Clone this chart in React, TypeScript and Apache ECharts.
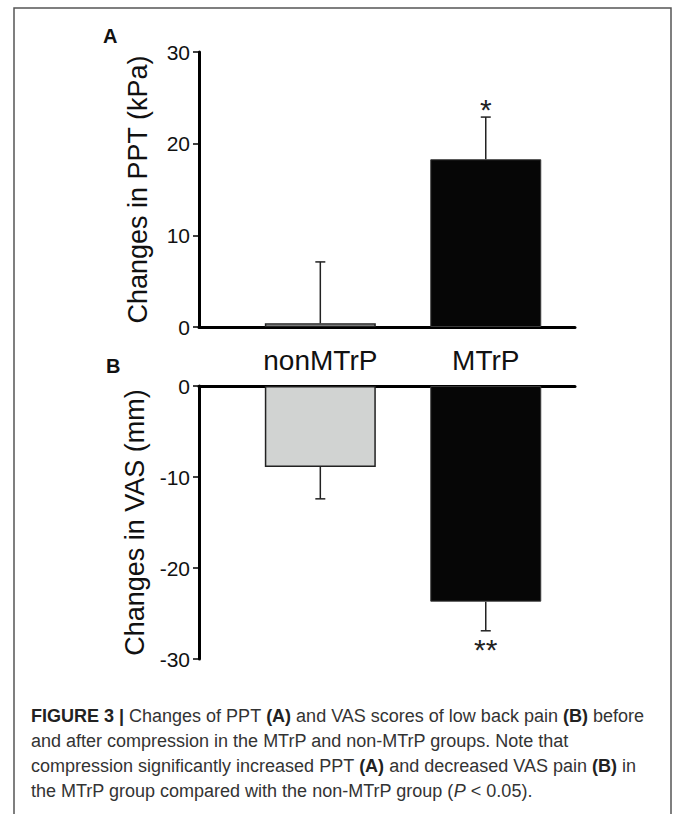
import React, { useEffect, useRef } from "react";
import * as echarts from "echarts";

const categories = ["nonMTrP", "MTrP"];
const pptChange = [0.4, 18.3];
const pptError = [6.7, 4.6];
const pptSignificance = ["", "*"];
const vasChange = [-8.9, -23.7];
const vasError = [3.5, 3.2];
const vasSignificance = ["", "**"];
const pptTitle = "Changes in PPT (kPa)";
const vasTitle = "Changes in VAS (mm)";
const captionLines = [
  "{b|FIGURE 3 |} Changes of PPT {b|(A)} and VAS scores of low back pain {b|(B)} before",
  "and after compression in the MTrP and non-MTrP groups. Note that",
  "compression significantly increased PPT {b|(A)} and decreased VAS pain {b|(B)} in",
  "the MTrP group compared with the non-MTrP group ({i|P} < 0.05).",
];

const FONT = "'Liberation Sans', Arial, Helvetica, sans-serif";
const barFill = ["#d1d3d2", "#060606"];
const barBorder = ["#222222", "#3a3a3a"];
const CAP = 18;

function barData(values: number[]) {
  return values.map((v, i) => ({
    value: [i, v],
    itemStyle: { color: barFill[i], borderColor: barBorder[i], borderWidth: i === 0 ? 1.5 : 1 },
  }));
}

function errorSeries(values: number[], errors: number[], sig: string[], idx: number, sigOffset: number) {
  return {
    type: "custom",
    xAxisIndex: idx,
    yAxisIndex: idx,
    z: 5,
    data: values.map((v, i) => [i, v, errors[i]]),
    renderItem: (params: any, api: any) => {
      const x = api.value(0);
      const v = api.value(1);
      const e = api.value(2);
      const dir = v >= 0 ? 1 : -1;
      const base = api.coord([x, v]);
      const end = api.coord([x, v + dir * e]);
      const s = sig[params.dataIndex] || "";
      const stroke = { stroke: "#222", lineWidth: 1.5 };
      return {
        type: "group",
        children: [
          { type: "line", shape: { x1: base[0], y1: base[1], x2: end[0], y2: end[1] }, style: stroke },
          { type: "line", shape: { x1: end[0] - 5, y1: end[1], x2: end[0] + 5, y2: end[1] }, style: stroke },
          {
            type: "text",
            style: {
              text: s,
              x: end[0],
              y: end[1] + (dir > 0 ? -sigOffset : sigOffset),
              align: "center",
              verticalAlign: "middle",
              font: `30px ${FONT}`,
              fill: "#222",
            },
          },
        ],
      };
    },
  };
}

const xMin = -0.7333;
const xMax = 1.5394;

export default function App() {
  const ref = useRef<HTMLDivElement>(null);
  useEffect(() => {
    if (!ref.current) return;
    const chart = echarts.init(ref.current, null, { renderer: "svg" });
    const axisLine = { show: true, onZero: true, lineStyle: { color: "#000", width: 3 } };
    const yCommon = {
      type: "value",
      interval: 10,
      axisLine: { show: true, onZero: false, lineStyle: { color: "#000", width: 3 } },
      axisTick: { show: true, length: 6, lineStyle: { color: "#000", width: 1.5 } },
      axisLabel: { fontSize: 21, color: "#111", margin: 9, fontFamily: FONT },
      splitLine: { show: false },
      nameLocation: "middle",
      nameRotate: 90,
      nameGap: 48,
      nameTextStyle: { fontSize: 27, color: "#111", fontFamily: FONT },
    };
    const option: any = {
      animation: false,
      backgroundColor: "#fff",
      grid: [
        { left: 199, right: 98, top: 52, height: 275 },
        { left: 199, right: 98, top: 386, height: 273 },
      ],
      xAxis: [
        {
          gridIndex: 0,
          type: "value",
          min: xMin,
          max: xMax,
          axisLine,
          axisTick: { show: false },
          splitLine: { show: false },
          axisLabel: {
            customValues: [0, 1],
            formatter: (v: number) => categories[Math.round(v)] ?? "",
            fontSize: 28,
            color: "#111",
            margin: 19,
            fontFamily: FONT,
          },
        },
        {
          gridIndex: 1,
          type: "value",
          position: "top",
          min: xMin,
          max: xMax,
          axisLine,
          axisTick: { show: false },
          splitLine: { show: false },
          axisLabel: { show: false },
        },
      ],
      yAxis: [
        { ...yCommon, gridIndex: 0, min: 0, max: 30, name: pptTitle },
        { ...yCommon, gridIndex: 1, min: -30, max: 0, name: vasTitle },
      ],
      series: [
        { type: "bar", xAxisIndex: 0, yAxisIndex: 0, barWidth: 111, data: barData(pptChange) },
        { type: "bar", xAxisIndex: 1, yAxisIndex: 1, barWidth: 111, data: barData(vasChange) },
        errorSeries(pptChange, pptError, pptSignificance, 0, 8),
        errorSeries(vasChange, vasError, vasSignificance, 1, 19),
      ],
      graphic: [
        {
          type: "rect",
          shape: { x: 14, y: 8, width: 657, height: 830 },
          style: { fill: "none", stroke: "#555", lineWidth: 1.5 },
          silent: true,
        },
        {
          type: "text",
          x: 103,
          y: 36,
          style: { text: "A", font: `bold 20px ${FONT}`, fill: "#111", verticalAlign: "middle" },
        },
        {
          type: "text",
          x: 106,
          y: 366,
          style: { text: "B", font: `bold 20px ${FONT}`, fill: "#111", verticalAlign: "middle" },
        },
        ...captionLines.map((t, i) => ({
          type: "text",
          x: 31,
          y: 716 + i * 25,
          style: {
            text: t,
            font: `${CAP}px ${FONT}`,
            fill: "#333",
            verticalAlign: "middle",
            rich: {
              b: { fontWeight: "bold", fontSize: CAP, fontFamily: FONT, fill: "#222" },
              i: { fontStyle: "italic", fontSize: CAP, fontFamily: FONT, fill: "#333" },
            },
          },
        })),
      ],
    };
    chart.setOption(option);
    return () => chart.dispose();
  }, []);
  return (
    <div
      ref={ref}
      style={{ position: "absolute", left: 0, top: 0, width: 673, height: 814 }}
    />
  );
}
